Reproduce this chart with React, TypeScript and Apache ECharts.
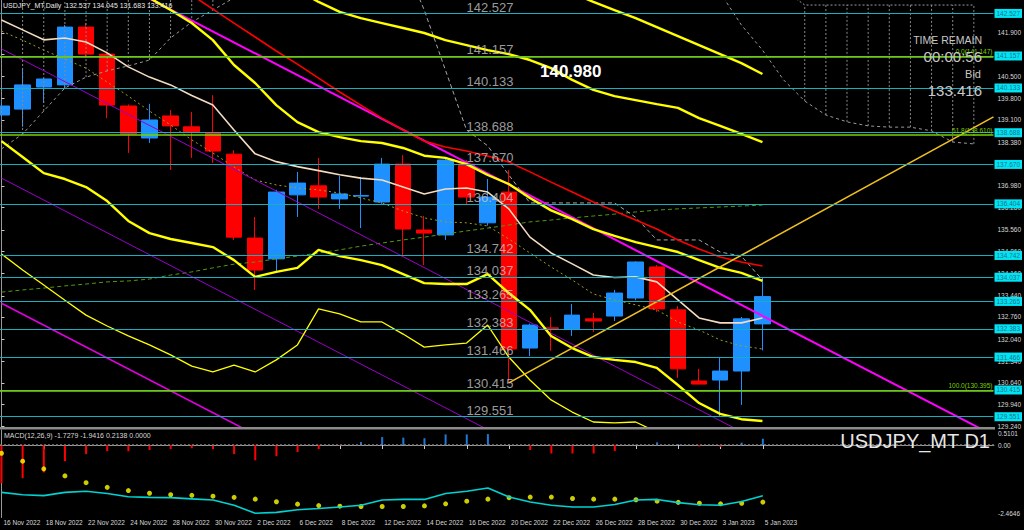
import React, { useEffect, useRef } from 'react';
import * as echarts from 'echarts';

// ---------- DATA ----------
const dates = ['16 Nov 2022','17 Nov 2022','18 Nov 2022','21 Nov 2022','22 Nov 2022','23 Nov 2022','24 Nov 2022','25 Nov 2022','28 Nov 2022','29 Nov 2022','30 Nov 2022','1 Dec 2022','2 Dec 2022','5 Dec 2022','6 Dec 2022','7 Dec 2022','8 Dec 2022','9 Dec 2022','12 Dec 2022','13 Dec 2022','14 Dec 2022','15 Dec 2022','16 Dec 2022','19 Dec 2022','20 Dec 2022','21 Dec 2022','22 Dec 2022','23 Dec 2022','26 Dec 2022','27 Dec 2022','28 Dec 2022','29 Dec 2022','30 Dec 2022','2 Jan 2023','3 Jan 2023','4 Jan 2023','5 Jan 2023'];
const dateTickIdx = [0,2,4,6,8,10,12,14,16,18,20,22,24,26,28,30,32,34,36];

const open  = [139.26,139.45,140.16,140.23,142.09,141.22,139.55,138.52,139.23,138.88,138.68,138.00,135.30,134.63,136.69,136.98,136.56,136.65,136.46,137.68,135.56,135.40,137.68,135.79,136.78,131.76,132.41,132.37,132.70,132.79,133.37,134.37,132.99,130.70,130.73,131.02,132.537];
const high  = [139.75,140.77,140.45,142.16,142.22,141.30,139.60,139.62,139.42,139.36,139.90,138.13,135.98,136.85,137.43,137.88,137.30,137.27,137.88,137.97,136.01,137.91,137.81,137.20,137.49,132.55,132.76,133.18,132.89,133.63,134.55,134.43,133.11,131.09,131.44,132.76,134.045];
const low   = [139.05,138.88,139.65,140.13,141.10,139.16,138.04,138.36,137.49,137.88,137.72,135.24,133.63,134.21,135.98,136.24,136.24,135.62,136.40,134.69,134.43,135.24,136.36,135.70,130.64,131.50,131.67,132.15,132.28,132.63,133.30,132.92,130.80,130.59,129.54,129.93,131.683];
const close = [139.55,140.23,140.42,142.09,141.22,139.58,138.65,139.10,138.91,138.71,138.10,135.33,134.27,136.78,137.07,136.62,136.72,136.67,137.68,135.59,135.46,137.81,136.62,136.62,131.73,132.50,132.38,132.82,132.63,133.53,134.53,133.02,131.09,130.60,131.02,132.70,133.416];

const maWheat = [142.32,142.00,141.68,141.74,141.61,141.26,140.81,140.48,140.23,139.89,139.58,138.78,138.01,137.76,137.60,137.47,137.34,137.23,137.17,136.94,136.72,136.88,136.91,136.78,136.24,135.33,134.82,134.47,134.11,134.03,134.05,133.89,133.31,132.73,132.57,132.57,132.73];
const maRed = [147.18,146.73,146.28,145.83,145.38,144.93,144.51,144.02,143.57,143.12,142.67,142.22,141.77,141.32,140.90,140.45,140.00,139.58,139.16,138.78,138.42,138.23,138.10,137.94,137.75,137.43,137.10,136.78,136.46,136.17,135.88,135.59,135.24,134.95,134.69,134.53,134.40];
const bandUpperA = [146.34,145.86,145.38,144.89,144.41,143.93,143.44,143.03,142.64,142.22,141.67,140.87,140.29,139.58,139.03,138.71,138.55,138.42,138.36,138.20,137.95,137.88,137.68,137.33,137.04,136.59,136.19,135.91,135.59,135.37,135.17,135.01,134.85,134.59,134.34,134.18,133.92];
const bandLowerA = [138.42,137.91,137.39,137.20,136.94,136.49,135.85,135.46,135.27,135.14,135.01,134.59,134.05,134.21,134.34,134.92,134.72,134.59,134.43,134.14,133.85,133.82,133.82,134.14,133.53,132.99,132.15,131.76,131.47,131.38,131.31,131.12,130.57,129.99,129.64,129.47,129.41];
const bandUpperB = [149.08,148.66,148.24,147.82,147.40,146.99,146.57,146.15,145.73,145.31,144.89,144.51,144.12,143.70,143.28,142.90,142.58,142.38,142.22,142.06,141.90,141.67,141.51,141.35,141.22,141.03,140.77,140.39,140.07,139.87,139.74,139.61,139.49,139.16,138.91,138.65,138.39];
const bandLowerB = [134.79,134.27,133.79,133.30,132.82,132.47,132.15,131.86,131.54,131.18,130.99,131.21,130.99,131.38,131.86,133.02,132.86,132.60,132.60,132.21,131.79,131.86,131.92,132.50,131.47,130.73,130.09,129.70,129.38,129.35,129.38,129.06,128.64,128.15,127.83,127.67,127.58];
const bandUpperC = [null,null,null,null,null,null,null,null,null,null,null,null,null,null,null,null,null,null,null,null,null,null,null,null,144.09,143.77,143.48,143.19,142.90,142.64,142.38,142.09,141.80,141.51,141.22,140.93,140.58];
const bandMid = [141.96,141.67,141.35,141.06,140.77,140.32,139.87,139.39,138.94,138.46,138.04,137.59,137.17,137.01,136.91,136.85,136.75,136.59,136.43,136.17,135.95,135.82,135.79,135.69,135.27,134.82,134.37,133.95,133.50,133.31,133.15,132.99,132.60,132.34,132.02,131.83,131.73];
const maGreen = [133.56,133.63,133.69,133.76,133.82,133.89,133.92,133.98,134.11,134.21,134.34,134.46,134.53,134.63,134.72,134.82,134.92,135.04,135.14,135.24,135.33,135.43,135.53,135.62,135.72,135.82,135.88,135.95,136.01,136.07,136.14,136.20,136.24,136.27,136.30,136.33,136.36];
// Ichimoku base line (gray dashed), from bar 19
const kijun = [null,null,null,null,null,null,null,null,null,null,null,null,null,null,null,null,null,null,null,144.25,142.64,140.71,138.78,138.27,137.33,136.43,136.43,136.43,136.43,136.43,135.97,135.24,135.24,135.24,134.85,134.72,133.95];

// Ichimoku cloud edges
const cloudLeftIdx = [0,1,2,3,4,5,6,7,8,9,10,11];
const cloudLeftA = [138.17,138.65,139.39,140.13,140.48,140.68,140.84,141.03,141.74,142.25,142.64,143.03];
const cloudLeftB = [146,146,146,146,146,146,146,146,146,146,146,146];
const spanARightIdx = [34,35,36,37,38,39,40,41,42,43,44,45,46];
const spanARight = [143.20,142.16,141.35,140.39,139.71,139.26,139.04,138.91,138.87,138.87,138.75,138.39,138.33];
const cloudRightIdx = [38,39,40,41,42,43,44,45,46];
const cloudRightA = [139.71,139.26,139.04,138.91,138.87,138.87,138.75,138.39,138.33];
const spanBRightIdx = [37,38,39,40,41,42,43,44,45,46];
const spanBRight = [143.30,142.80,142.80,142.80,142.80,142.80,142.80,142.80,142.80,142.80];

// straight drawn objects: [barIndex, price]
const trendLine = [[24, 130.64], [46.93, 139.2]];
const channelMagentaTop = [[0, 145.47], [46.93, 128.95]];
const channelPurple1 = [[0, 141.39], [46.93, 124.87]];
const channelPurple2 = [[0, 137.23], [46.93, 120.71]];
const channelMagentaBottom = [[0, 133.20], [46.93, 116.68]];

const levels = [142.527, 141.157, 140.133, 138.688, 137.670, 136.404, 134.742, 134.037, 133.265, 132.383, 131.466, 130.415, 129.551];
const fibLevels = [141.147, 138.610, 130.395];
const fibNames = ['0.0(141.147)', '61.8(138.610)', '100.0(130.395)'];
const bidPrice = 133.416;
const priceTicks = [141.9,141.2,140.5,139.8,139.1,138.38,137.67,136.98,136.28,135.56,134.86,134.16,133.44,132.76,132.04,131.34,130.64,129.94,129.24];

const macdMain = [-1.61,-1.69,-1.72,-1.61,-1.57,-1.65,-1.76,-1.78,-1.79,-1.83,-1.87,-2.05,-2.32,-2.29,-2.20,-2.16,-2.11,-2.05,-1.87,-1.85,-1.85,-1.65,-1.57,-1.46,-1.77,-1.94,-2.05,-2.11,-2.11,-2.02,-1.87,-1.85,-1.96,-2.03,-2.05,-1.92,-1.7279];
const macdSignal = [-0.28,-0.55,-0.81,-1.05,-1.28,-1.44,-1.55,-1.64,-1.69,-1.71,-1.74,-1.78,-1.84,-1.93,-2.01,-2.06,-2.08,-2.09,-2.09,-2.09,-2.07,-2.00,-1.91,-1.84,-1.79,-1.77,-1.77,-1.82,-1.84,-1.84,-1.86,-1.91,-1.95,-1.98,-2.00,-1.98,-1.9416];
const macdHist = [-1.30,-1.13,-0.93,-0.55,-0.31,-0.21,-0.21,-0.17,-0.14,-0.11,-0.14,-0.31,-0.52,-0.38,-0.24,-0.14,-0.02,0.10,0.27,0.25,0.23,0.36,0.36,0.37,0.02,-0.17,-0.29,-0.29,-0.29,-0.20,0.01,0.09,0.03,-0.05,-0.07,0.08,0.2138];
const macdMax = 0.5101;
const macdMin = -2.4646;
const macdTickLabels = ['0.5101', '0.00', '-2.4646'];

// ---------- LAYOUT ----------
const X_MIN = -0.07;
const X_MAX = 46.93;
const FONT = '"Liberation Sans", Arial, sans-serif';
// label anchor values inside the MACD panel (keep the end labels inside the pane)
const MACD_LABEL_POS = [0.395, 0, -2.32];

const toXY = (arr: (number | null)[]) =>
  arr.map((v, i) => [i, v]).filter((d) => d[1] != null);
const pair = (idx: number[], vals: number[]) => idx.map((v, k) => [v, vals[k]]);

export default function App() {
  const ref = useRef<HTMLDivElement>(null);
  useEffect(() => {
    document.body.style.margin = '0';
    document.body.style.background = '#000';
    const chart = echarts.init(ref.current!, null, { renderer: 'svg' });

    const lineS = (data: any[], color: string, width: number, type: any = 'solid', z = 3) => ({
      type: 'line', xAxisIndex: 0, yAxisIndex: 0, data, symbol: 'none', silent: true,
      lineStyle: { color, width, type }, z, clip: true,
    });

    const hatch = (idx: number[], a: number[], b: number[]) => ({
      type: 'custom', xAxisIndex: 0, yAxisIndex: 0, silent: true, z: 2,
      data: idx.map((v, k) => [v, a[k], b[k]]),
      renderItem: (params: any, api: any) => {
        const p1 = api.coord([api.value(0), api.value(1)]);
        const p2 = api.coord([api.value(0), api.value(2)]);
        const cs = params.coordSys;
        const clamp = (y: number) => Math.max(cs.y, Math.min(cs.y + cs.height, y));
        return {
          type: 'line',
          shape: { x1: p1[0], y1: clamp(p1[1]), x2: p2[0], y2: clamp(p2[1]) },
          style: { stroke: '#8a8a8a', lineWidth: 1, lineDash: [2, 2] },
        };
      },
    });

    const option: any = {
      animation: false,
      backgroundColor: '#000000',
      grid: [
        { left: 0, top: 0, width: 994, height: 427 },
        { left: 0, top: 430, width: 994, height: 87.5 },
      ],
      xAxis: [
        { type: 'value', gridIndex: 0, min: X_MIN, max: X_MAX, show: false },
        {
          type: 'value', gridIndex: 1, min: X_MIN, max: X_MAX,
          axisLine: { show: true, lineStyle: { color: '#9a9a9a', width: 1 } },
          splitLine: { show: false },
          axisTick: { show: true, customValues: dateTickIdx, length: 4, lineStyle: { color: '#c8c8c8' } },
          axisLabel: {
            customValues: dateTickIdx, formatter: (v: number) => dates[Math.round(v)],
            color: '#d8d8d8', fontSize: 6.5, fontFamily: FONT, align: 'left', margin: 1,
            padding: [0, 0, 0, 2],
          },
        },
      ],
      yAxis: [
        {
          type: 'value', gridIndex: 0, position: 'right', min: 129.219, max: 142.962,
          axisLine: { show: true, lineStyle: { color: '#9a9a9a', width: 1 } },
          splitLine: { show: false },
          axisTick: { show: true, customValues: priceTicks, length: 3, lineStyle: { color: '#c8c8c8' } },
          axisLabel: {
            customValues: priceTicks, formatter: (v: number) => v.toFixed(3),
            color: '#d8d8d8', fontSize: 6.5, fontFamily: FONT, margin: 4,
          },
        },
        {
          type: 'value', gridIndex: 1, position: 'right', min: macdMin, max: macdMax,
          axisLine: { show: true, lineStyle: { color: '#9a9a9a', width: 1 } },
          splitLine: { show: false },
          axisTick: { show: false },
          axisLabel: {
            customValues: MACD_LABEL_POS,
            formatter: (v: number) => macdTickLabels[MACD_LABEL_POS.indexOf(v)] ?? '',
            color: '#d8d8d8', fontSize: 6.5, fontFamily: FONT, margin: 4,
          },
        },
      ],
      series: [
        hatch(cloudLeftIdx, cloudLeftA, cloudLeftB),
        hatch(cloudRightIdx, cloudRightA, spanBRight.slice(1)),
        {
          type: 'candlestick', xAxisIndex: 0, yAxisIndex: 0, silent: true, z: 1,
          data: open.map((o, i) => [i, o, close[i], low[i], high[i]]),
          encode: { x: 0, y: [1, 2, 3, 4] },
          barWidth: 16,
          itemStyle: { color: '#1e90ff', color0: '#ff0000', borderColor: '#1e90ff', borderColor0: '#ff0000', borderWidth: 1 },
        },
        // horizontal level lines with axis boxes
        {
          type: 'line', xAxisIndex: 0, yAxisIndex: 0, data: [], silent: true, z: 2,
          markLine: {
            silent: true, symbol: ['none', 'none'], animation: false,
            data: [
              { yAxis: bidPrice, name: bidPrice.toFixed(3), lineStyle: { opacity: 0 },
                label: { show: true, position: 'end', formatter: '{b}', backgroundColor: '#ffffff', color: '#000000', fontSize: 6.5, fontFamily: FONT, padding: [1, 2, 1, 2], distance: 1 } },
              ...levels.map((v) => ({
                yAxis: v, name: v.toFixed(3),
                lineStyle: { color: '#17aebf', width: 1.2, type: 'solid' },
                label: { show: true, position: 'end', formatter: '{b}', backgroundColor: '#00e5f5', color: '#1a6f88', fontSize: 6.5, fontFamily: FONT, padding: [1, 2, 1, 2], distance: 1 },
              })),
              ...fibLevels.map((v, k) => ({
                yAxis: v, name: fibNames[k],
                lineStyle: { color: '#7ccf00', width: 1.5, type: 'solid' },
                label: { show: true, position: 'insideEndTop', formatter: '{b}', color: '#7ccf00', fontSize: 6.5, fontFamily: FONT, distance: 1 },
              })),
            ],
          },
        },
        // in-chart level captions
        {
          type: 'scatter', xAxisIndex: 0, yAxisIndex: 0, silent: true, z: 4, symbolSize: 0,
          data: levels.map((v) => [22, v]),
          label: {
            show: true, position: [0, -13], formatter: (p: any) => p.value[1].toFixed(3),
            color: '#c4c4c4', fontSize: 13, fontFamily: FONT,
          },
        },
        lineS(toXY(maGreen), '#4f9a10', 1, [4, 3]),
        lineS(toXY(bandMid), '#a0a020', 1, [2, 3]),
        lineS(toXY(cloudLeftA), '#9a9a9a', 1, [3, 3]),
        lineS(pair(spanARightIdx, spanARight), '#9a9a9a', 1, [3, 3]),
        lineS(pair(spanBRightIdx, spanBRight), '#9a9a9a', 1, [2, 2]),
        lineS(toXY(kijun), '#a8a8a8', 1, [4, 3]),
        lineS(channelPurple1, '#9a00cc', 1),
        lineS(channelPurple2, '#9a00cc', 1),
        lineS(channelMagentaTop, '#ff00ff', 2),
        lineS(channelMagentaBottom, '#e000e0', 1.6),
        lineS(toXY(maRed), '#ff0000', 1.6),
        lineS(toXY(maWheat), '#f3dcc0', 1.6),
        lineS(toXY(bandLowerB), '#ffff00', 1.3),
        lineS(toXY(bandUpperC), '#ffff00', 2.4),
        lineS(toXY(bandUpperB), '#ffff00', 2.4),
        lineS(toXY(bandUpperA), '#ffff00', 2.4),
        lineS(toXY(bandLowerA), '#ffff00', 2.4),
        lineS(trendLine, '#f0c020', 1.6),
        // MACD
        {
          type: 'bar', xAxisIndex: 1, yAxisIndex: 1, silent: true, barWidth: 2,
          data: toXY(macdHist),
          itemStyle: { color: (p: any) => (p.value[1] >= 0 ? '#1e78d8' : '#ff0000') },
        },
        {
          type: 'line', xAxisIndex: 1, yAxisIndex: 1, silent: true, symbol: 'none',
          data: toXY(macdMain), lineStyle: { color: '#00d2d2', width: 1.6 },
          markLine: {
            silent: true, symbol: ['none', 'none'], label: { show: false },
            data: [{ yAxis: 0, lineStyle: { color: '#808080', width: 1.5, type: [2, 2] } }],
          },
        },
        {
          type: 'scatter', xAxisIndex: 1, yAxisIndex: 1, silent: true, symbolSize: 5,
          data: toXY(macdSignal), itemStyle: { color: '#ffff00' },
        },
      ],
      graphic: [
        { type: 'rect', shape: { x: 0, y: 427, width: 995, height: 2.5 }, style: { fill: '#8c8c8c' }, z: 50 },
        { type: 'text', x: 3, y: 2, z: 60, style: { text: 'USDJPY_MT,Daily  132.537 134.045 131.683 133.416', fill: '#e8e8e8', fontSize: 7, fontFamily: FONT } },
        { type: 'text', x: 4, y: 432, z: 60, style: { text: 'MACD(12,26,9) -1.7279 -1.9416 0.2138 0.0000', fill: '#d8d8d8', fontSize: 7, fontFamily: FONT } },
        { type: 'text', x: 540, y: 63, z: 60, style: { text: '140.980', fill: '#ffffff', fontSize: 17, fontWeight: 'bold', fontFamily: FONT } },
        { type: 'text', x: 982, y: 40, z: 60, style: { text: 'TIME REMAIN', fill: '#c8c8c8', fontSize: 10.5, fontFamily: FONT, align: 'right', textAlign: 'right', verticalAlign: 'middle', textVerticalAlign: 'middle' } },
        { type: 'text', x: 982, y: 56, z: 60, style: { text: '00:00:56', fill: '#c8c8c8', fontSize: 15, fontFamily: FONT, align: 'right', textAlign: 'right', verticalAlign: 'middle', textVerticalAlign: 'middle' } },
        { type: 'text', x: 981, y: 74, z: 60, style: { text: 'Bid', fill: '#c8c8c8', fontSize: 11, fontFamily: FONT, align: 'right', textAlign: 'right', verticalAlign: 'middle', textVerticalAlign: 'middle' } },
        { type: 'text', x: 982, y: 90, z: 60, style: { text: '133.416', fill: '#c8c8c8', fontSize: 15, fontFamily: FONT, align: 'right', textAlign: 'right', verticalAlign: 'middle', textVerticalAlign: 'middle' } },
        { type: 'text', x: 990, y: 441, z: 60, style: { text: 'USDJPY_MT D1', fill: '#e6e6e6', fontSize: 20, fontFamily: FONT, align: 'right', textAlign: 'right', verticalAlign: 'middle', textVerticalAlign: 'middle' } },
      ],
    };
    chart.setOption(option);
    return () => chart.dispose();
  }, []);
  return <div ref={ref} style={{ position: 'absolute', left: 0, top: 0, width: 1024, height: 530, background: '#000' }} />;
}
